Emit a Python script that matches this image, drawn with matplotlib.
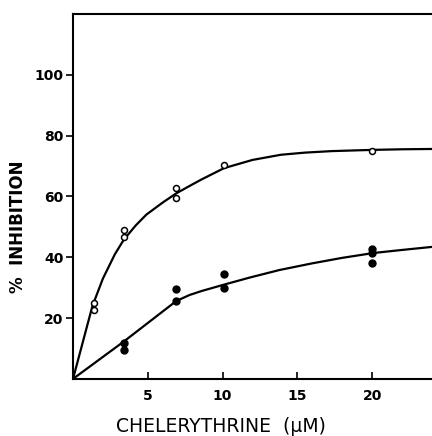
import matplotlib
matplotlib.use('Agg')
import matplotlib.pyplot as plt

# open circles (upper series)
open_x = [1.4, 1.4, 3.4, 3.4, 6.9, 6.9, 10.1, 20.0]
open_y = [25.0, 22.5, 49.0, 46.7, 62.7, 59.6, 70.2, 74.8]
open_curve_x = [0, 1.3, 2.0, 2.8, 3.4, 4.2, 4.9, 6.0, 6.9, 8.0, 8.6, 10.1, 12.0, 13.9, 15.5, 17.3, 20.0, 22.0, 24.0]
open_curve_y = [0, 24.0, 33.0, 41.0, 45.8, 50.5, 54.0, 58.0, 61.0, 64.0, 65.6, 69.3, 72.0, 73.7, 74.4, 74.9, 75.3, 75.5, 75.6]

# filled circles (lower series)
fill_x = [3.4, 3.4, 6.9, 6.9, 10.1, 10.1, 20.0, 20.0, 20.0]
fill_y = [11.8, 9.4, 29.4, 25.6, 34.5, 30.0, 42.6, 41.3, 38.0]
fill_curve_x = [0, 3.4, 6.9, 7.8, 8.6, 10.1, 11.8, 13.8, 16.0, 18.0, 20.1, 22.0, 24.0]
fill_curve_y = [0, 12.3, 25.6, 27.6, 28.9, 31.0, 33.3, 35.8, 38.0, 39.8, 41.4, 42.4, 43.4]

fig = plt.figure(figsize=(4.32, 4.36), dpi=100)
ax = fig.add_axes([0.169, 0.131, 0.831, 0.837])

ax.plot(open_curve_x, open_curve_y, color='black', lw=1.6, solid_capstyle='round')
ax.plot(fill_curve_x, fill_curve_y, color='black', lw=1.6, solid_capstyle='round')
ax.plot(open_x, open_y, 'o', ms=4.3, mfc='white', mec='black', mew=1.1)
ax.plot(fill_x, fill_y, 'o', ms=5.0, mfc='black', mec='black')

ax.set_xlim(0, 24)
ax.set_ylim(0, 120)
ax.set_xticks([5, 10, 15, 20])
ax.set_yticks([20, 40, 60, 80, 100])
ax.spines['right'].set_visible(False)
for s in ['left', 'bottom', 'top']:
    ax.spines[s].set_linewidth(1.5)
ax.tick_params(axis='x', direction='in', length=5, width=1.2, pad=7)
ax.tick_params(axis='y', direction='out', length=5, width=1.2, pad=2)
for lab in ax.get_xticklabels() + ax.get_yticklabels():
    lab.set_fontweight('bold')
    lab.set_fontsize(10)

ax.set_xlabel('CHELERYTHRINE  (\u03bcM)', fontsize=13.5)
ax.set_ylabel('%  INHIBITION', fontsize=12, fontweight='bold')
ax.xaxis.set_label_coords(0.412, -0.131)
ax.yaxis.set_label_coords(-0.153, 0.416)
ax.xaxis.label.set_va('center')
ax.yaxis.label.set_va('center')

plt.savefig('out.png', dpi=100)
